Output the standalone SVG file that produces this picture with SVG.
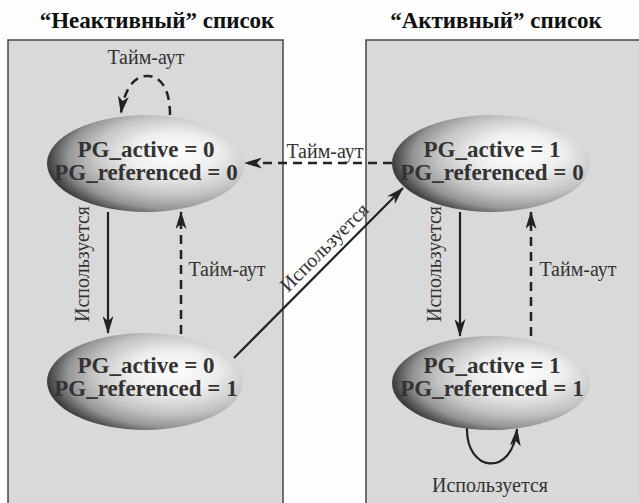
<svg xmlns="http://www.w3.org/2000/svg" width="639" height="503" viewBox="0 0 639 503">
<defs>
  <radialGradient id="ball" cx="0.65" cy="0.45" r="0.75" fx="0.64" fy="0.38">
    <stop offset="0" stop-color="#ffffff"/>
    <stop offset="0.3" stop-color="#ededed"/>
    <stop offset="0.55" stop-color="#c4c4c4"/>
    <stop offset="0.72" stop-color="#959595"/>
    <stop offset="0.86" stop-color="#404040"/>
    <stop offset="1" stop-color="#1e1e1e"/>
  </radialGradient>
  <marker id="arr" viewBox="0 0 18 11" refX="17" refY="5.5" markerWidth="18" markerHeight="11" markerUnits="userSpaceOnUse" orient="auto">
    <path d="M0,0 L18,5.5 L0,11 L5,5.5 z" fill="#222"/>
  </marker>
  <style>
    .panel{fill:#d9d9d9;stroke:#444;stroke-width:1.5}
    .title{font-family:"Liberation Serif",serif;font-weight:bold;font-size:23px;fill:#111;text-anchor:middle}
    .st{font-family:"Liberation Serif",serif;font-weight:bold;font-size:23px;fill:#333;text-anchor:middle}
    .lbl{font-family:"Liberation Serif",serif;font-size:20px;fill:#333;text-anchor:middle}
    .solid{fill:none;stroke:#222;stroke-width:2.2;marker-end:url(#arr)}
    .dash{fill:none;stroke:#222;stroke-width:2.5;stroke-dasharray:9,6;marker-end:url(#arr)}
  </style>
</defs>
<rect width="639" height="503" fill="#fdfdfd"/>
<rect class="panel" x="8" y="40" width="275" height="475"/>
<rect class="panel" x="366" y="40" width="285" height="475"/>
<text class="title" x="157" y="28">“Неактивный” список</text>
<text class="title" x="496" y="28">“Активный” список</text>

<g id="connectors">
  <path class="dash" d="M170,115 C170,85 158,75 146,76 C132,77 124,92 121,113"/>
  <text class="lbl" x="146" y="64">Тайм-аут</text>
  <path class="solid" d="M108,212 L108,333"/>
  <text class="lbl" transform="translate(89,264) rotate(-90)">Используется</text>
  <path class="dash" d="M181,334 L181,212"/>
  <text class="lbl" x="227" y="276">Тайм-аут</text>
  <path class="dash" d="M392,163 L245,163"/>
  <text class="lbl" x="325" y="158">Тайм-аут</text>
  <path class="solid" d="M234,358 L403,188"/>
  <text class="lbl" transform="translate(329,252) rotate(-45)">Используется</text>
  <path class="solid" d="M460,212 L460,336"/>
  <text class="lbl" transform="translate(441,264) rotate(-90)">Используется</text>
  <path class="dash" d="M531,336 L531,212"/>
  <text class="lbl" x="578" y="276">Тайм-аут</text>
  <path class="solid" d="M467,428 C466,472 512,478 517,429"/>
  <text class="lbl" x="490" y="492">Используется</text>
</g>

<g id="n00">
  <ellipse cx="146" cy="163.5" rx="99" ry="48.5" fill="url(#ball)"/>
  <text class="st" x="146" y="157">PG_active = 0</text>
  <text class="st" x="146" y="180">PG_referenced = 0</text>
</g>
<g id="n10">
  <ellipse cx="491" cy="163.5" rx="99" ry="48.5" fill="url(#ball)"/>
  <text class="st" x="492" y="157">PG_active = 1</text>
  <text class="st" x="492" y="180">PG_referenced = 0</text>
</g>
<g id="n01">
  <ellipse cx="145" cy="381.5" rx="98" ry="48.5" fill="url(#ball)"/>
  <text class="st" x="146" y="373">PG_active = 0</text>
  <text class="st" x="146" y="396">PG_referenced = 1</text>
</g>
<g id="n11">
  <ellipse cx="491" cy="383" rx="99" ry="47" fill="url(#ball)"/>
  <text class="st" x="492" y="373">PG_active = 1</text>
  <text class="st" x="492" y="396">PG_referenced = 1</text>
</g>
</svg>
